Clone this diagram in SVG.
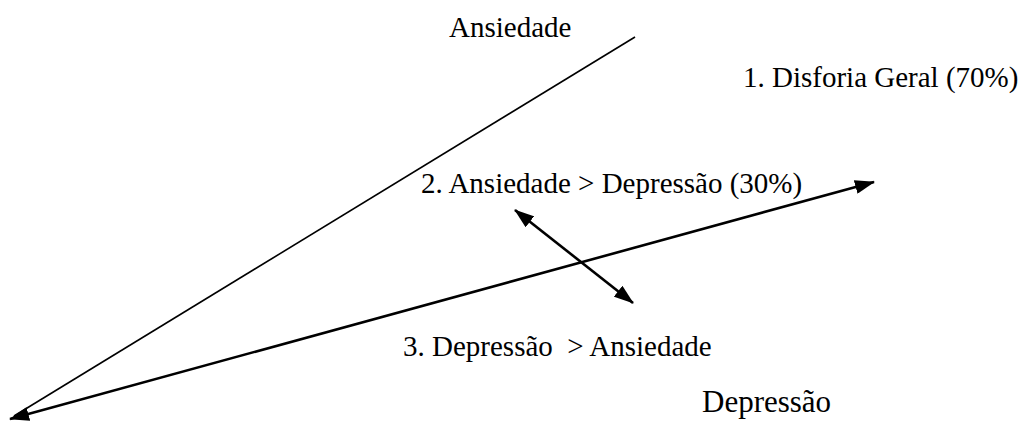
<svg xmlns="http://www.w3.org/2000/svg" width="1020" height="421" viewBox="0 0 1020 421">
  <style>
    .lbl { font-family: "Liberation Serif", "Times New Roman", serif; font-size: 29px; fill: #000; white-space: pre; }
    .big { font-size: 31px; }
    .ln { stroke: #000; fill: none; }
    .thin { stroke-width: 1.6; }
    .thick { stroke-width: 2.6; }
  </style>
  <defs>
    <marker id="ah" markerUnits="userSpaceOnUse" markerWidth="20" markerHeight="14" refX="19" refY="7" orient="auto-start-reverse">
      <path d="M0,0 L20,7 L0,14 z" fill="#000"/>
    </marker>
  </defs>
  <g id="connectors">
    <line id="axis-ansiedade" class="ln thin" x1="635" y1="37" x2="14" y2="416"/>
    <line id="axis-depressao" class="ln thick" x1="10" y1="419" x2="874" y2="182" marker-start="url(#ah)" marker-end="url(#ah)"/>
    <line id="double-arrow" class="ln thick" x1="515" y1="210" x2="633" y2="303" marker-start="url(#ah)" marker-end="url(#ah)"/>
  </g>
  <g id="label-ansiedade"><text class="lbl" x="449" y="37">Ansiedade</text></g>
  <g id="label-1"><text class="lbl" x="743" y="87">1. Disforia Geral (70%)</text></g>
  <g id="label-2"><text class="lbl" x="421" y="193">2. Ansiedade &gt; Depressão (30%)</text></g>
  <g id="label-3"><text class="lbl" x="403" y="356">3. Depressão  &gt; Ansiedade</text></g>
  <g id="label-depressao"><text class="lbl big" x="702" y="412">Depressão</text></g>
</svg>
